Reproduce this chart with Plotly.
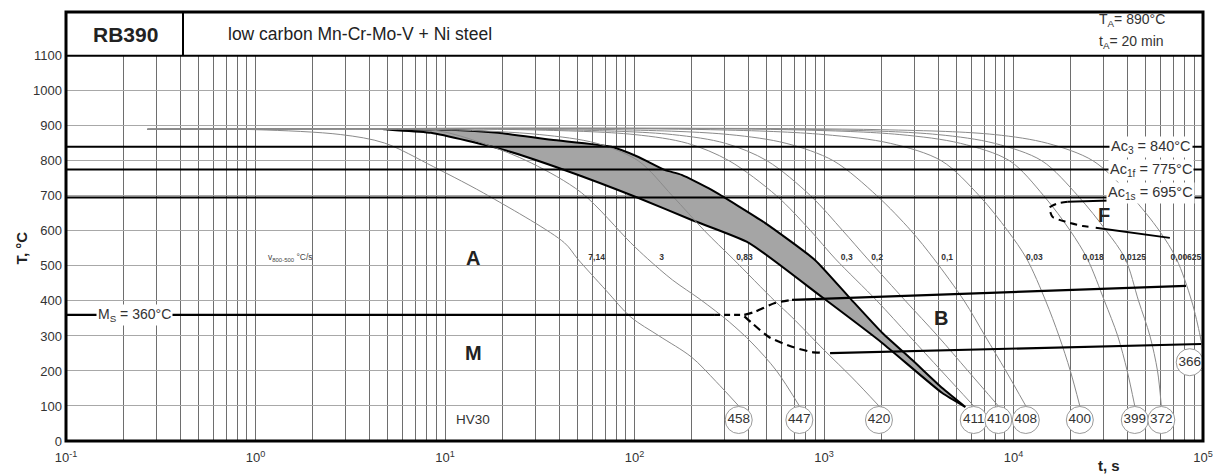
import numpy as np
import plotly.graph_objects as go

FONT = "Arial, Liberation Sans, sans-serif"

# ---------------- data ----------------
# cooling curves: log10(t [s]) and T [°C]
curve_labels = ["7,14", "3", "0,83", "0,3", "0,2", "0,1", "0,03", "0,018", "0,0125", "0,00625"]
curve_log_t = [
    [-0.57, 0.0, 0.45, 0.68, 0.94, 1.24, 1.63, 1.70, 1.85, 1.98, 2.13, 2.30, 2.43, 2.55],
    [-0.57, 0.6, 0.96, 1.20, 1.455, 1.72, 1.98, 2.07, 2.20, 2.35, 2.50, 2.62, 2.75, 2.87],
    [-0.57, 1.0, 1.5, 1.80, 2.02, 2.20, 2.37, 2.52, 2.74, 2.83, 3.00, 3.15, 3.29],
    [-0.57, 1.4, 2.0, 2.28, 2.50, 2.75, 2.93, 3.06, 3.28, 3.45, 3.62, 3.79],
    [-0.57, 1.6, 2.2, 2.48, 2.70, 2.93, 3.10, 3.23, 3.43, 3.60, 3.76, 3.92],
    [-0.57, 1.9, 2.5, 2.80, 3.05, 3.28, 3.46, 3.58, 3.74, 3.85, 3.96, 4.065],
    [-0.57, 2.4, 3.0, 3.35, 3.62, 3.82, 3.97, 4.07, 4.17, 4.24, 4.30, 4.35],
    [-0.57, 2.8, 3.4, 3.72, 3.98, 4.16, 4.30, 4.39, 4.48, 4.55, 4.60, 4.64],
    [-0.57, 3.0, 3.6, 3.90, 4.15, 4.34, 4.49, 4.59, 4.66, 4.72, 4.76, 4.78],
    [-0.57, 3.3, 3.9, 4.18, 4.42, 4.62, 4.77, 4.86, 4.94, 4.985, 5.0],
]
curve_T = [
    [890, 889, 875, 851, 783, 697, 566, 520, 430, 354, 300, 240, 170, 100],
    [890, 890, 886, 850, 794, 709, 566, 520, 460, 403, 340, 280, 200, 100],
    [890, 889, 875, 850, 800, 700, 600, 520, 400, 354, 260, 180, 100],
    [890, 889, 875, 850, 800, 700, 600, 520, 400, 300, 200, 100],
    [890, 889, 875, 850, 800, 700, 600, 520, 400, 300, 200, 100],
    [890, 889, 875, 850, 800, 700, 600, 520, 400, 300, 200, 100],
    [890, 889, 875, 850, 800, 700, 600, 520, 400, 300, 200, 100],
    [890, 889, 875, 850, 800, 700, 600, 520, 400, 300, 200, 100],
    [890, 889, 875, 850, 800, 700, 600, 520, 400, 300, 200, 100],
    [890, 889, 875, 850, 800, 700, 600, 520, 400, 300, 255],
]
speed_label_log_t = [1.80, 2.143, 2.58, 3.12, 3.28, 3.65, 4.11, 4.42, 4.63, 4.91]
speed_label_T = 523

# hardness HV30
hv_values = [458, 447, 420, 411, 410, 408, 400, 399, 372, 366]
hv_log_t = [2.55, 2.87, 3.29, 3.79, 3.92, 4.065, 4.35, 4.64, 4.78, 4.93]
hv_T = [60, 60, 60, 60, 60, 60, 60, 60, 60, 225]

# shaded band (upper and lower boundary)
band_up_log_t = [0.672, 1.032, 1.28, 1.561, 1.878, 2.021, 2.159, 2.249, 2.407, 2.688, 2.952, 3.132, 3.307, 3.466, 3.624, 3.746]
band_up_T = [890, 889, 880, 860, 840, 811, 774, 760, 717, 623, 517, 411, 309, 231, 151, 97]
band_lo_log_t = [0.672, 0.926, 1.312, 1.630, 2.021, 2.302, 2.603, 2.989, 3.307, 3.624, 3.746]
band_lo_T = [890, 880, 831, 774, 694, 631, 566, 411, 280, 137, 97]

# critical temperatures
Ac3, Ac1f, Ac1s, Ms = 840, 775, 695, 360
ms_solid_end_log_t = 2.42
ms_dash_end_log_t = 2.58

# bainite start / finish lines
bs_dash_log_t = [2.58, 2.635, 2.741, 2.831]
bs_dash_T = [360, 369, 394, 403]
bs_log_t = [2.831, 4.91]
bs_T = [403, 443]
bf_dash_log_t = [2.58, 2.619, 2.709, 2.831, 2.937, 2.989]
bf_dash_T = [356, 337, 297, 269, 254, 252]
bf_log_t = [3.032, 4.99]
bf_T = [251, 277]

# ferrite
f_top_log_t = [4.286, 4.60]
f_top_T = [683, 688]
f_dash_log_t = [4.286, 4.23, 4.19, 4.206, 4.275, 4.365, 4.418]
f_dash_T = [683, 678, 666, 640, 626, 614, 611]
f_bot_log_t = [4.434, 4.825]
f_bot_T = [609, 580]

y_ticks = list(range(0, 1101, 100))
x_decades = [-1, 0, 1, 2, 3, 4, 5]

# ---------------- figure ----------------
def t(v):
    return np.power(10.0, np.asarray(v, dtype=float))

fig = go.Figure()

# shaded band
bx = list(t(band_up_log_t)) + list(t(band_lo_log_t))[::-1]
by = band_up_T + band_lo_T[::-1]
fig.add_trace(go.Scatter(x=bx, y=by, fill="toself", fillcolor="#a5a5a5",
                         line=dict(color="black", width=2, shape="spline", smoothing=0.5),
                         mode="lines", hoverinfo="skip"))

# cooling curves
for lt, T in zip(curve_log_t, curve_T):
    fig.add_trace(go.Scatter(x=t(lt), y=T, mode="lines",
                             line=dict(color="#8a8a8a", width=1, shape="spline", smoothing=0.9),
                             hoverinfo="skip"))

def hline(T, x0, x1, width=2, dash="solid"):
    fig.add_trace(go.Scatter(x=[x0, x1], y=[T, T], mode="lines",
                             line=dict(color="black", width=width, dash=dash), hoverinfo="skip"))

for T in (Ac3, Ac1f, Ac1s):
    hline(T, 0.1, 1e5)
hline(Ms, 0.1, t(ms_solid_end_log_t), width=2.2)
hline(Ms, t(ms_solid_end_log_t), t(ms_dash_end_log_t), width=2.2, dash="6px,4px")

def path(lt, T, width=2.2, dash="solid"):
    fig.add_trace(go.Scatter(x=t(lt), y=T, mode="lines",
                             line=dict(color="black", width=width, dash=dash, shape="spline", smoothing=0.6),
                             hoverinfo="skip"))

path(bs_dash_log_t, bs_dash_T, dash="8px,5px")
path(bs_log_t, bs_T)
path(bf_dash_log_t, bf_dash_T, dash="8px,5px")
path(bf_log_t, bf_T)
path(f_top_log_t, f_top_T, width=2)
path(f_dash_log_t, f_dash_T, width=2, dash="7px,5px")
path(f_bot_log_t, f_bot_T, width=2)

# hardness circles
fig.add_trace(go.Scatter(x=t(hv_log_t), y=hv_T, mode="markers+text",
                         text=[str(v) for v in hv_values], textposition="middle center",
                         textfont=dict(family=FONT, size=13.5, color="#333"),
                         marker=dict(size=27, color="white", line=dict(color="#9a9a9a", width=1)),
                         hoverinfo="skip"))

# speed labels
fig.add_trace(go.Scatter(x=t(speed_label_log_t), y=[speed_label_T] * len(speed_label_log_t),
                         mode="text", text=["<b>%s</b>" % s for s in curve_labels],
                         textposition="middle center",
                         textfont=dict(family=FONT, size=8.5, color="#333"), hoverinfo="skip"))

ann = []
def txt(x, y, s, size, bold=False, color="#222", **kw):
    d = dict(x=x, y=y, text=("<b>%s</b>" % s) if bold else s, showarrow=False,
             xanchor="center", yanchor="middle",
             font=dict(family=FONT, size=size, color=color))
    d.update(kw)
    ann.append(d)

txt(1.15, 523, "A", 20, bold=True)
txt(1.15, 251, "M", 20, bold=True)
txt(3.62, 351, "B", 20, bold=True)
txt(4.48, 646, "F", 20, bold=True)
txt(1.148, 60, "HV30", 13.5, color="#333")
txt(0.185, 523, "v<sub>800-500</sub> °C/s", 8.5, color="#444")
txt(-0.64, Ms, "M<sub>S</sub> = 360°C", 14, color="#333", bgcolor="white", borderpad=1)
txt(4.725, Ac3, "Ac<sub>3</sub> = 840°C", 14.5, color="#333", bgcolor="white", borderpad=1)
txt(4.725, Ac1f, "Ac<sub>1f</sub> = 775°C", 14.5, color="#333", bgcolor="white", borderpad=1)
txt(4.725, 709, "Ac<sub>1s</sub> = 695°C", 14.5, color="#333", bgcolor="white", borderpad=1)
for a in ann:
    a["xref"] = "x"; a["yref"] = "y"

# header texts (paper)
ann += [
    dict(xref="paper", yref="paper", x=0.0519, y=0.948, xanchor="center", yanchor="middle",
         text="<b>RB390</b>", showarrow=False, font=dict(family=FONT, size=21, color="#222")),
    dict(xref="paper", yref="paper", x=0.141, y=0.948, xanchor="left", yanchor="middle",
         text="low carbon Mn-Cr-Mo-V + Ni steel", showarrow=False,
         font=dict(family=FONT, size=17.5, color="#222")),
    dict(xref="paper", yref="paper", x=0.907, y=0.982, xanchor="left", yanchor="middle",
         text="T<sub>A</sub>= 890°C", showarrow=False, font=dict(family=FONT, size=14, color="#333")),
    dict(xref="paper", yref="paper", x=0.907, y=0.930, xanchor="left", yanchor="middle",
         text="t<sub>A</sub>= 20 min", showarrow=False, font=dict(family=FONT, size=14, color="#333")),
    dict(xref="paper", yref="paper", x=-0.039, y=0.45, xanchor="center", yanchor="middle",
         text="<b>T, °C</b>", textangle=-90,
         showarrow=False, font=dict(family=FONT, size=15, color="#222")),
    dict(xref="paper", yref="paper", x=0.917, y=-0.056, xanchor="center", yanchor="middle",
         text="<b>t, s</b>", showarrow=False, font=dict(family=FONT, size=15, color="#222")),
]

# axis ticks: every 1..9 x 10^n for the log grid, only decades labelled
xt, xl = [], []
for n in x_decades[:-1]:
    for m in range(1, 10):
        xt.append(m * 10.0 ** n)
        xl.append("10<sup>%d</sup>" % n if m == 1 else "")
xt.append(10.0 ** x_decades[-1]); xl.append("10<sup>%d</sup>" % x_decades[-1])

shapes = [
    # header box
    dict(type="rect", xref="paper", yref="y", x0=0, x1=1, y0=1100, y1=1225,
         fillcolor="white", line=dict(color="black", width=2), layer="above"),
    dict(type="line", xref="paper", yref="y", x0=0.1029, x1=0.1029, y0=1100, y1=1225,
         line=dict(color="black", width=2), layer="above"),
    # frame
    dict(type="rect", xref="paper", yref="paper", x0=0, x1=1, y0=0, y1=1,
         line=dict(color="black", width=3), layer="above"),
]

# page body has an 8px default margin: figure sized/margined to land the plot at the reference pixels
fig.update_layout(
    width=1212, height=467,
    margin=dict(l=58, r=17, t=4, b=34),
    paper_bgcolor="white", plot_bgcolor="white",
    showlegend=False,
    font=dict(family=FONT, color="#333"),
    xaxis=dict(type="log", range=[-1, 5], tickvals=xt, ticktext=xl, tickmode="array",
               tickangle=0, ticklabelstandoff=7,
               showgrid=True, gridcolor="#6e6e6e", gridwidth=1, zeroline=False, showline=False,
               ticks="", tickfont=dict(family=FONT, size=13, color="#333")),
    yaxis=dict(range=[0, 1225], tickvals=y_ticks, tickmode="array",
               showgrid=True, gridcolor="#a8a8a8", gridwidth=1, zeroline=False, showline=False,
               ticks="", ticklabelstandoff=3, tickfont=dict(family=FONT, size=13, color="#333")),
    annotations=ann,
    shapes=shapes,
)

fig.write_html("out.html")
